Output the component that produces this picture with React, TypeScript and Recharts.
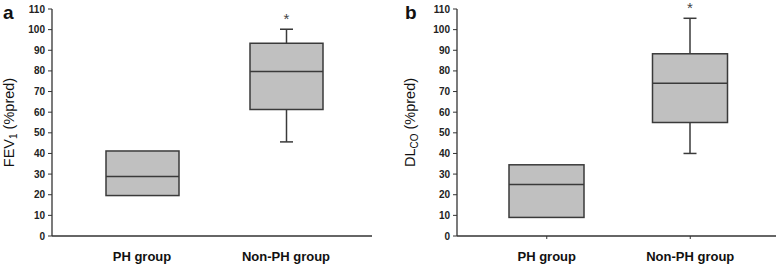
import { ComposedChart, Bar, XAxis, YAxis, Label } from 'recharts';

const groups = ['PH group', 'Non-PH group'];
const yTicks = [0, 10, 20, 30, 40, 50, 60, 70, 80, 90, 100, 110];

// panel a: FEV1 (%pred)
const fev1Q1 = [19.6, 61.3];
const fev1Median = [28.8, 79.7];
const fev1Q3 = [41.2, 93.4];
const fev1Min = [null, 45.6];
const fev1Max = [null, 100.2];

// panel b: DLco (%pred)
const dlcoQ1 = [9.0, 55.0];
const dlcoMedian = [25.0, 74.0];
const dlcoQ3 = [34.5, 88.3];
const dlcoMin = [null, 40.0];
const dlcoMax = [null, 105.5];

const significant = [false, true];

const FONT = '"Liberation Sans", Arial, Helvetica, sans-serif';
const INK = '#333';
const BOX_FILL = '#c0c0c0';
const BOX_STROKE = '#3a3a3a';

function buildRows(q1: number[], med: number[], q3: number[], lo: (number | null)[], hi: (number | null)[]) {
  return groups.map((g, i) => ({
    name: g,
    box: [q1[i], q3[i]],
    median: med[i],
    min: lo[i],
    max: hi[i],
    sig: significant[i],
  }));
}

const rowsA = buildRows(fev1Q1, fev1Median, fev1Q3, fev1Min, fev1Max);
const rowsB = buildRows(dlcoQ1, dlcoMedian, dlcoQ3, dlcoMin, dlcoMax);

function BoxShape(props: any) {
  const { x, y, width, height, payload } = props;
  const [lo, hi] = payload.box;
  const top = Math.min(y, y + height);
  const h = Math.abs(height);
  const ppu = h / (hi - lo);
  const toY = (v: number) => top + (hi - v) * ppu;
  const cx = x + width / 2;
  const cap = 6.5;
  const medY = toY(payload.median);
  return (
    <g>
      {payload.max != null && (
        <g stroke={BOX_STROKE} strokeWidth={1.5}>
          <line x1={cx} x2={cx} y1={toY(payload.max)} y2={top} />
          <line x1={cx - cap} x2={cx + cap} y1={toY(payload.max)} y2={toY(payload.max)} />
        </g>
      )}
      {payload.min != null && (
        <g stroke={BOX_STROKE} strokeWidth={1.5}>
          <line x1={cx} x2={cx} y1={top + h} y2={toY(payload.min)} />
          <line x1={cx - cap} x2={cx + cap} y1={toY(payload.min)} y2={toY(payload.min)} />
        </g>
      )}
      <rect x={x} y={top} width={width} height={h} fill={BOX_FILL} stroke={BOX_STROKE} strokeWidth={1.5} />
      <line x1={x} x2={x + width} y1={medY} y2={medY} stroke={BOX_STROKE} strokeWidth={1.5} />
      {payload.sig && payload.max != null && (
        <text x={cx} y={toY(payload.max) - 5} textAnchor="middle" fontSize={15} fontFamily={FONT} fill="#444">
          *
        </text>
      )}
    </g>
  );
}

interface PanelProps {
  rows: ReturnType<typeof buildRows>;
  yWidth: number;
  right: number;
  barSize: number;
  xTickLine: boolean;
  title: (x: number) => any;
  titleX: number;
}

function Panel({ rows, yWidth, right, barSize, xTickLine, title, titleX }: PanelProps) {
  return (
    <ComposedChart width={389} height={265} data={rows} margin={{ top: 9, right, bottom: 0, left: 0 }}>
      <XAxis
        dataKey="name"
        height={29}
        padding={{ left: 18, right: 14 }}
        axisLine={{ stroke: INK, strokeWidth: 1.3 }}
        tickLine={xTickLine ? { stroke: INK } : false}
        tickSize={3}
        tickMargin={13}
        tick={{ fontSize: 13, fontWeight: 'bold', fontFamily: FONT, fill: '#111' }}
      />
      <YAxis
        type="number"
        domain={[0, 110]}
        ticks={yTicks}
        interval={0}
        width={yWidth}
        axisLine={{ stroke: INK, strokeWidth: 1.3 }}
        tickLine={{ stroke: INK }}
        tickSize={4}
        tickMargin={3}
        tick={{ fontSize: 10, fontWeight: 'bold', fontFamily: FONT, fill: '#222' }}
      >
        <Label content={() => title(titleX)} />
      </YAxis>
      <Bar dataKey="box" barSize={barSize} shape={<BoxShape />} isAnimationActive={false} />
    </ComposedChart>
  );
}

export default function App() {
  const letter = { position: 'absolute' as const, top: 2, fontSize: 19, fontWeight: 'bold' as const, fontFamily: FONT, color: '#111' };
  return (
    <div style={{ position: 'absolute', left: 0, top: 0, width: 778, height: 265, background: '#fff' }}>
      <div style={{ position: 'absolute', left: 0, top: 0 }}>
        <Panel
          rows={rowsA}
          yWidth={52}
          right={17}
          barSize={73}
          xTickLine={false}
          titleX={14}
          title={(x) => (
            <text
              x={x}
              y={122.5}
              transform={`rotate(-90, ${x}, 122.5)`}
              textAnchor="middle"
              fontSize={14.5}
              fontFamily={FONT}
              fill="#111"
            >
              FEV<tspan dy={3} fontSize={10}>1</tspan>
              <tspan dy={-3}> (%pred)</tspan>
            </text>
          )}
        />
      </div>
      <div style={{ position: 'absolute', left: 389, top: 0 }}>
        <Panel
          rows={rowsB}
          yWidth={68}
          right={2}
          barSize={75}
          xTickLine={true}
          titleX={26}
          title={(x) => (
            <text
              x={x}
              y={122.5}
              transform={`rotate(-90, ${x}, 122.5)`}
              textAnchor="middle"
              fontSize={14.5}
              fontFamily={FONT}
              fill="#111"
            >
              DL<tspan dy={3} fontSize={10}>CO</tspan>
              <tspan dy={-3}> (%pred)</tspan>
            </text>
          )}
        />
      </div>
      <div style={{ ...letter, left: 3 }}>a</div>
      <div style={{ ...letter, left: 405 }}>b</div>
    </div>
  );
}
